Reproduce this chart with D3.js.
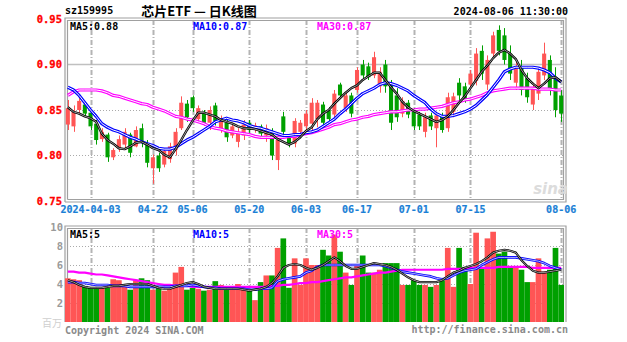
<!DOCTYPE html>
<html><head><meta charset="utf-8">
<script src="https://cdn.jsdelivr.net/npm/d3@7/dist/d3.min.js"></script>
<style>body{margin:0;background:#fff}svg{display:block}</style>
</head><body><svg id="c" width="627" height="342"></svg>
<script>
const dates = ["2024-03-28","2024-03-29","2024-04-01","2024-04-02","2024-04-03","2024-04-08","2024-04-09","2024-04-10","2024-04-11","2024-04-12",
"2024-04-15","2024-04-16","2024-04-17","2024-04-18","2024-04-19","2024-04-22","2024-04-23","2024-04-24","2024-04-25","2024-04-26",
"2024-04-29","2024-04-30","2024-05-06","2024-05-07","2024-05-08","2024-05-09","2024-05-10","2024-05-13","2024-05-14","2024-05-15",
"2024-05-16","2024-05-17","2024-05-20","2024-05-21","2024-05-22","2024-05-23","2024-05-24","2024-05-27","2024-05-28","2024-05-29",
"2024-05-30","2024-05-31","2024-06-03","2024-06-04","2024-06-05","2024-06-06","2024-06-07","2024-06-11","2024-06-12","2024-06-13",
"2024-06-14","2024-06-17","2024-06-18","2024-06-19","2024-06-20","2024-06-21","2024-06-24","2024-06-25","2024-06-26","2024-06-27",
"2024-06-28","2024-07-01","2024-07-02","2024-07-03","2024-07-04","2024-07-05","2024-07-08","2024-07-09","2024-07-10","2024-07-11",
"2024-07-12","2024-07-15","2024-07-16","2024-07-17","2024-07-18","2024-07-19","2024-07-22","2024-07-23","2024-07-24","2024-07-25",
"2024-07-26","2024-07-29","2024-07-30","2024-07-31","2024-08-01","2024-08-02","2024-08-05","2024-08-06"];

const open  = [.834,.832,.850,.856,.847,.835,.818,.823,.798,.808,.812,.823,.810,.830,.813,.786,.800,.790,.796,.806,
.830,.857,.864,.840,.848,.836,.855,.830,.836,.822,.815,.822,.836,.828,.832,.822,.826,.795,.843,.821,
.813,.826,.832,.835,.840,.856,.850,.845,.878,.852,.866,.872,.900,.898,.888,.876,.900,.878,.866,.846,
.858,.848,.845,.826,.844,.830,.843,.830,.848,.880,.876,.878,.882,.915,.878,.912,.938,.932,.912,.880,
.898,.885,.856,.868,.888,.905,.885,.866];
const high  = [.861,.855,.863,.858,.850,.839,.830,.825,.808,.822,.830,.825,.832,.835,.817,.801,.803,.808,.814,.830,
.865,.861,.866,.855,.850,.854,.858,.844,.839,.836,.830,.839,.839,.836,.834,.834,.830,.825,.848,.823,
.841,.839,.850,.863,.861,.859,.853,.872,.880,.869,.869,.897,.905,.902,.914,.897,.905,.883,.874,.864,
.861,.852,.848,.847,.847,.848,.847,.869,.869,.885,.880,.894,.918,.921,.910,.936,.943,.940,.921,.905,
.905,.891,.880,.897,.924,.910,.897,.872];
const low   = [.828,.826,.845,.843,.828,.812,.815,.793,.795,.804,.806,.798,.809,.809,.787,.769,.782,.787,.792,.800,
.828,.837,.848,.837,.833,.828,.833,.825,.815,.819,.809,.817,.825,.825,.820,.815,.795,.784,.820,.809,
.809,.822,.828,.826,.831,.831,.837,.842,.864,.848,.842,.869,.885,.883,.885,.869,.869,.828,.837,.842,
.841,.828,.828,.820,.828,.809,.825,.826,.842,.861,.858,.875,.877,.883,.872,.908,.910,.900,.883,.872,
.866,.858,.850,.861,.883,.866,.842,.837];
const close = [.852,.848,.860,.846,.832,.817,.826,.798,.806,.818,.826,.803,.828,.815,.792,.798,.786,.805,.810,.826,
.858,.842,.852,.852,.836,.850,.838,.840,.820,.832,.826,.834,.828,.833,.824,.830,.800,.817,.826,.812,
.838,.836,.846,.858,.858,.836,.840,.868,.866,.866,.846,.894,.888,.886,.908,.892,.876,.836,.842,.860,
.845,.832,.832,.842,.832,.844,.828,.864,.865,.866,.862,.890,.912,.890,.905,.932,.915,.905,.890,.898,
.872,.864,.874,.892,.912,.872,.850,.846];
const volume = [4.6,4.5,4.4,3.8,3.6,3.5,3.6,3.6,4.5,4.4,4.0,3.4,4.4,4.6,4.4,3.4,3.8,3.3,3.6,5.2,
5.8,3.4,3.6,3.5,3.3,3.4,4.3,3.9,3.4,3.5,4.0,3.4,3.3,2.3,4.2,4.9,4.9,7.8,8.8,3.6,
6.7,3.9,6.7,6.0,6.0,7.6,7.0,9.2,7.4,5.2,3.9,6.0,7.0,5.2,5.2,5.5,6.2,6.2,6.2,3.9,
3.9,4.4,3.9,3.9,3.7,3.9,4.4,7.8,3.7,7.8,5.8,4.0,9.4,5.8,8.8,9.5,7.2,7.4,5.7,5.7,
5.5,4.2,4.2,6.7,5.3,5.5,7.8,3.9];

const ma5 = [.853,.848,.846,.843,.841,.837,.824,.817,.813,.808,.807,.810,.814,.815,.812,.808,.806,.801,.798,.807,
.817,.828,.838,.847,.847,.845,.843,.839,.837,.835,.832,.830,.830,.829,.827,.825,.823,.818,.815,.812,
.815,.820,.827,.831,.840,.846,.850,.857,.863,.869,.874,.877,.883,.887,.891,.891,.883,.875,.868,.859,
.853,.849,.846,.843,.840,.837,.839,.843,.850,.858,.865,.874,.883,.892,.899,.907,.913,.916,.912,.906,
.894,.885,.879,.874,.879,.885,.886,.881];
const ma10 = [.875,.872,.866,.858,.850,.843,.835,.831,.828,.826,.823,.820,.818,.815,.813,.811,.808,.807,.807,.809,
.813,.817,.820,.824,.828,.832,.837,.839,.841,.839,.838,.836,.833,.831,.830,.828,.826,.824,.822,.822,
.823,.823,.825,.826,.828,.832,.836,.840,.846,.851,.857,.863,.868,.871,.874,.878,.880,.879,.877,.874,
.871,.866,.862,.858,.851,.846,.843,.843,.844,.846,.848,.851,.855,.861,.867,.875,.883,.892,.895,.897,
.897,.897,.897,.896,.894,.891,.885,.881];
const ma30 = [.866,.870,.872,.872,.872,.872,.871,.869,.866,.865,.863,.861,.859,.857,.856,.853,.851,.849,.846,.843,
.842,.840,.839,.837,.835,.832,.830,.829,.827,.826,.825,.824,.823,.821,.820,.820,.820,.820,.820,.821,
.821,.823,.824,.825,.827,.829,.831,.834,.835,.837,.839,.840,.842,.843,.845,.846,.847,.848,.848,.849,
.850,.850,.851,.851,.852,.853,.854,.856,.858,.859,.861,.862,.864,.866,.869,.871,.872,.873,.874,.874,
.874,.874,.874,.873,.873,.873,.872,.872];

const volMa5 = [4.4,4.2,3.9,3.7,3.6,3.6,3.6,3.7,3.8,3.8,3.9,4.0,4.0,4.0,4.0,3.8,3.6,3.5,3.5,3.7,
3.9,4.1,4.2,4.0,3.7,3.6,3.5,3.5,3.5,3.5,3.5,3.4,3.3,3.4,3.5,3.7,4.1,4.8,5.7,6.0,
6.1,6.0,5.7,5.5,5.7,6.0,6.4,6.8,6.4,5.9,5.6,5.6,5.8,6.0,6.2,6.1,6.0,5.8,5.5,5.1,
4.7,4.4,4.2,4.2,4.2,4.2,4.4,4.8,5.2,5.4,5.7,5.9,6.1,6.4,6.8,7.3,7.5,7.6,7.5,7.3,
6.5,5.9,5.4,5.2,5.2,5.3,5.4,5.5];
const volMa10 = [4.2,4.2,4.1,4.1,4.0,3.9,3.9,3.9,3.8,3.8,3.8,3.7,3.7,3.7,3.7,3.7,3.7,3.7,3.7,3.8,
3.8,3.8,3.9,3.8,3.7,3.6,3.6,3.5,3.5,3.5,3.5,3.5,3.4,3.4,3.5,3.5,3.6,4.3,4.5,4.6,
4.7,4.8,5.2,5.4,5.8,6.0,6.0,6.0,6.0,6.0,6.0,6.0,6.0,6.0,6.0,6.0,5.9,5.7,5.5,5.3,
5.2,5.1,5.0,4.9,4.8,4.6,4.5,4.6,4.9,5.2,5.4,5.5,5.6,6.0,6.3,6.6,6.8,6.8,6.8,6.8,
6.7,6.6,6.5,6.4,6.2,5.9,5.7,5.5];
const volMa30 = [5.3,5.3,5.2,5.2,5.1,5.0,5.0,4.9,4.8,4.7,4.6,4.5,4.4,4.3,4.2,4.1,4.0,3.9,3.9,3.8,
3.8,3.8,3.7,3.7,3.7,3.7,3.7,3.7,3.7,3.7,3.7,3.7,3.7,3.7,3.7,3.7,3.8,3.8,3.9,3.9,
4.0,4.1,4.1,4.2,4.2,4.3,4.4,4.5,4.6,4.7,4.7,4.8,4.9,5.0,5.1,5.2,5.2,5.3,5.4,5.5,
5.5,5.5,5.5,5.5,5.5,5.5,5.5,5.6,5.6,5.6,5.6,5.7,5.7,5.7,5.7,5.7,5.8,5.8,5.8,5.8,
5.8,5.8,5.7,5.7,5.7,5.7,5.7,5.7];

const tickDates  = ["2024-04-03","2024-04-22","2024-05-06","2024-05-20","2024-06-03","2024-06-17","2024-07-01","2024-07-15","2024-08-06"];
const tickLabels = ["2024-04-03","04-22","05-06","05-20","06-03","06-17","07-01","07-15","08-06"];
const priceTicks = [0.75,0.80,0.85,0.90,0.95];
const volTicks = [2,4,6,8,10];

const svg = d3.select("#c");
const MONO = "'DejaVu Sans Mono', monospace";
const UP = "#ff5555", DOWN = "#00a000", GRID = "#b4b4b4", FRAME = "#a0a0a0";

const x = d3.scaleBand().domain(dates).range([65, 564]).padding(0);
const cx = d => x(d) + x.bandwidth() / 2;
const y = d3.scaleLinear().domain([0.75, 0.95]).range([201, 19]);
const yv = d3.scaleLinear().domain([0, 10]).range([322, 227]);

// ---- grid: main ----
const gMain = svg.append("g");
gMain.selectAll("line.h").data([0.80, 0.85]).join("line")
  .attr("x1", 67).attr("x2", 564).attr("y1", d => Math.round(y(d)) + .5).attr("y2", d => Math.round(y(d)) + .5)
  .attr("stroke", "#aaa").attr("stroke-dasharray", "1,2");
gMain.append("line").attr("x1", 67).attr("x2", 564).attr("y1", Math.round(y(0.90)) + .5).attr("y2", Math.round(y(0.90)) + .5)
  .attr("stroke", "#c0c0c0").attr("stroke-width", 1.5);
gMain.selectAll("line.v").data(tickDates).join("line")
  .attr("x1", d => Math.round(cx(d)) + .5).attr("x2", d => Math.round(cx(d)) + .5)
  .attr("y1", 20).attr("y2", 200)
  .attr("stroke", GRID).attr("stroke-width", 2).attr("stroke-dasharray", "5,2,1,2");

// ---- grid: volume ----
const gVol = svg.append("g");
gVol.selectAll("line.h").data([2, 4, 6, 8]).join("line")
  .attr("x1", 67).attr("x2", 564).attr("y1", d => Math.round(yv(d)) + .5).attr("y2", d => Math.round(yv(d)) + .5)
  .attr("stroke", "#aaa").attr("stroke-dasharray", "1,2");
gVol.selectAll("line.v").data(tickDates).join("line")
  .attr("x1", d => Math.round(cx(d)) + .5).attr("x2", d => Math.round(cx(d)) + .5)
  .attr("y1", 228).attr("y2", 322)
  .attr("stroke", GRID).attr("stroke-width", 2).attr("stroke-dasharray", "5,2,1,2");

// ---- frames ----
function frame(x0, y0, x1, y1, bottom) {
  const g = svg.append("g").attr("fill", "none").attr("stroke", FRAME).attr("stroke-width", 1.2);
  [[0, 0], [2.5, 2.5]].forEach(([a]) => {
    const p = d3.path();
    if (bottom) { p.moveTo(x0 + a, y1 - a); } else { p.moveTo(x0 + a, y1); }
    p.lineTo(x0 + a, y0 + a); p.lineTo(x1 - a, y0 + a);
    if (bottom) { p.lineTo(x1 - a, y1 - a); p.lineTo(x0 + a, y1 - a); } else { p.lineTo(x1 - a, y1); }
    g.append("path").attr("d", p.toString());
  });
}
frame(65, 18, 566, 202, true);
frame(65, 226, 566, 322, false);

// ---- candles ----
const candles = dates.map((d, i) => ({ d, o: open[i], h: high[i], l: low[i], c: close[i], v: volume[i] }));
const col = k => k.c >= k.o ? UP : DOWN;
const bw = x.bandwidth() * 0.72;
const gC = svg.append("g");
gC.selectAll("line").data(candles).join("line")
  .attr("x1", k => Math.round(cx(k.d)) + .5).attr("x2", k => Math.round(cx(k.d)) + .5)
  .attr("y1", k => y(k.h)).attr("y2", k => y(k.l)).attr("stroke", col).attr("stroke-width", 1);
gC.selectAll("rect").data(candles).join("rect")
  .attr("x", k => cx(k.d) - bw / 2).attr("width", bw)
  .attr("y", k => y(Math.max(k.o, k.c))).attr("height", k => Math.max(1, Math.abs(y(k.o) - y(k.c))))
  .attr("fill", col);

// ---- volume bars ----
svg.append("g").selectAll("rect").data(candles).join("rect")
  .attr("x", k => x(k.d)).attr("width", x.bandwidth())
  .attr("y", k => yv(k.v)).attr("height", k => yv(0) - yv(k.v))
  .attr("fill", col);

// ---- MA lines (hollow style) ----
function maLine(vals, scale, color, w, inner) {
  const line = d3.line().x((v, i) => cx(dates[i])).y(v => scale(v)).curve(d3.curveLinear);
  const g = svg.append("g").attr("fill", "none");
  g.append("path").attr("d", line(vals)).attr("stroke", color).attr("stroke-width", w).attr("stroke-linejoin", "round");
  if (inner) g.append("path").attr("d", line(vals)).attr("stroke", "#fff").attr("stroke-width", inner).attr("stroke-linejoin", "round");
}
maLine(ma30, y, "#ff00ff", 3.2, 1);
maLine(ma10, y, "#0000ff", 3.2, 1);
maLine(ma5, y, "#000", 2.4, 0.6);
maLine(volMa30, yv, "#ff00ff", 2.2, 0);
maLine(volMa10, yv, "#0000ff", 2.6, 0.7);
maLine(volMa5, yv, "#000", 2.2, 0.6);

// ---- axes ----
const yAxis = svg.append("g").attr("transform", "translate(65,0)")
  .call(d3.axisLeft(y).tickValues(priceTicks).tickFormat(d3.format(".2f")).tickSize(0).tickPadding(3));
yAxis.select(".domain").remove();
yAxis.selectAll("text").attr("fill", "#ff0000").attr("font-family", MONO).attr("font-weight", "bold").attr("font-size", 10.5)
  .attr("stroke", "#ff0000").attr("stroke-width", 0.3);

const vAxis = svg.append("g").attr("transform", "translate(65,0)")
  .call(d3.axisLeft(yv).tickValues(volTicks).tickFormat(d3.format("d")).tickSize(0).tickPadding(2));
vAxis.select(".domain").remove();
vAxis.selectAll("text").attr("fill", "#9a9a9a").attr("font-family", MONO).attr("font-weight", "bold").attr("font-size", 10.5);

const xAxis = svg.append("g").attr("transform", "translate(0,203)")
  .call(d3.axisBottom(x).tickValues(tickDates).tickFormat((d, i) => tickLabels[i]).tickSize(0).tickPadding(3));
xAxis.select(".domain").remove();
xAxis.selectAll("text").attr("fill", "#1a7fd6").attr("font-family", MONO).attr("font-weight", "bold").attr("font-size", 10)
  .attr("stroke", "#1a7fd6").attr("stroke-width", 0.2);

// ---- texts ----
function txt(t, tx, ty, opts = {}) {
  return svg.append("text").attr("x", tx).attr("y", ty).text(t)
    .attr("font-family", opts.family || MONO).attr("font-size", opts.size || 10)
    .attr("font-weight", opts.weight || "bold").attr("fill", opts.fill || "#000")
    .attr("text-anchor", opts.anchor || "start").attr("font-style", opts.style || "normal");
}
txt("sz159995", 65, 14, { size: 10 });
txt("芯片ETF — 日K线图", 199, 16, { family: "'Noto Sans CJK SC', sans-serif", size: 13, anchor: "middle" });
txt("2024-08-06 11:30:00", 568, 15, { size: 10, anchor: "end" });

txt("MA5:0.88", 70, 30, { fill: "#000" });
txt("MA10:0.87", 193, 30, { fill: "#0000ff" });
txt("MA30:0.87", 317, 30, { fill: "#ff00ff" });

txt("MA5:5", 70, 238, { fill: "#000" });
txt("MA10:5", 193, 238, { fill: "#0000ff" });
txt("MA30:5", 317, 238, { fill: "#ff00ff" });

txt("百万", 62, 327, { family: "'Noto Sans CJK SC', sans-serif", size: 10, fill: "#cfcfcf", anchor: "end", weight: "normal" });
txt("Copyright 2024 SINA.COM", 65, 334, { fill: "#8a8a8a", size: 10 });
txt("http://finance.sina.com.cn", 568, 333, { fill: "#8a8a8a", size: 10, anchor: "end" });
txt("sina", 568, 194, { family: "'DejaVu Sans', sans-serif", size: 15, fill: "#dcdcdc", anchor: "end", style: "italic" });
</script>
</body></html>
